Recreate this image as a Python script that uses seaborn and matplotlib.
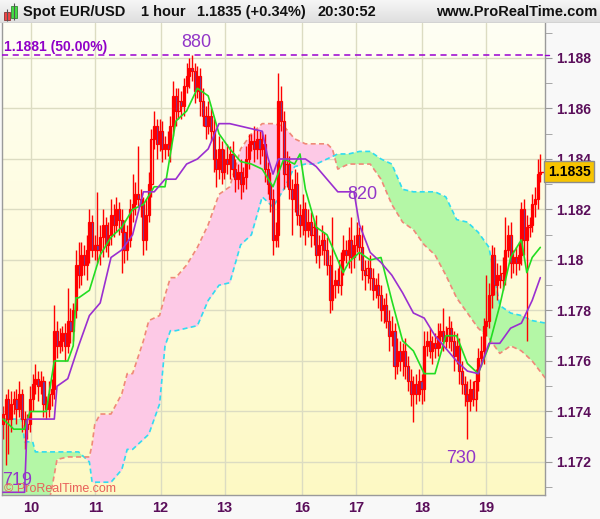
import numpy as np
import pandas as pd
import matplotlib
matplotlib.use("Agg")
import matplotlib.pyplot as plt
from matplotlib.colors import LinearSegmentedColormap
from matplotlib.patches import Rectangle
from matplotlib.ticker import FixedLocator, MultipleLocator, FuncFormatter
import matplotlib.transforms as mtransforms
import seaborn as sns

# --- hourly candles (bar index 0..199), EUR/USD ---
first_open = 1.1735
closes = [
    1.1739, 1.1745, 1.1737, 1.1743, 1.1745, 1.1741, 1.1747, 1.1737, 1.1733, 1.1735,
    1.1745, 1.1751, 1.1753, 1.1750, 1.1752, 1.1743, 1.1741, 1.1747, 1.1749, 1.1772,
    1.1766, 1.1768, 1.1771, 1.1766, 1.1776, 1.1772, 1.1780, 1.1798, 1.1794, 1.1802,
    1.1798, 1.1804, 1.1815, 1.1804, 1.1806, 1.1804, 1.1809, 1.1814, 1.1806, 1.1810,
    1.1818, 1.1814, 1.1820, 1.1816, 1.1811, 1.1804, 1.1808, 1.1820, 1.1822, 1.1826,
    1.1824, 1.1822, 1.1808, 1.1818, 1.1830, 1.1848, 1.1853, 1.1846, 1.1851, 1.1844,
    1.1846, 1.1844, 1.1853, 1.1865, 1.1859, 1.1863, 1.1861, 1.1869, 1.1873, 1.1876,
    1.1875, 1.1867, 1.1873, 1.1863, 1.1857, 1.1853, 1.1857, 1.1851, 1.1840, 1.1836,
    1.1844, 1.1835, 1.1840, 1.1838, 1.1842, 1.1836, 1.1832, 1.1835, 1.1830, 1.1833,
    1.1840, 1.1846, 1.1847, 1.1844, 1.1848, 1.1844, 1.1846, 1.1836, 1.1830, 1.1824,
    1.1808, 1.1810, 1.1863, 1.1855, 1.1834, 1.1838, 1.1828, 1.1824, 1.1830, 1.1818,
    1.1814, 1.1820, 1.1812, 1.1815, 1.1810, 1.1813, 1.1802, 1.1806, 1.1808, 1.1804,
    1.1798, 1.1784, 1.1790, 1.1792, 1.1790, 1.1800, 1.1804, 1.1802, 1.1808, 1.1801,
    1.1806, 1.1810, 1.1805, 1.1796, 1.1794, 1.1797, 1.1793, 1.1788, 1.1790, 1.1786,
    1.1780, 1.1782, 1.1776, 1.1770, 1.1772, 1.1758, 1.1764, 1.1760, 1.1764, 1.1758,
    1.1752, 1.1747, 1.1751, 1.1747, 1.1752, 1.1749, 1.1766, 1.1768, 1.1764, 1.1767,
    1.1765, 1.1770, 1.1772, 1.1768, 1.1770, 1.1773, 1.1768, 1.1762, 1.1766, 1.1756,
    1.1751, 1.1747, 1.1744, 1.1749, 1.1745, 1.1752, 1.1761, 1.1764, 1.1774, 1.1776,
    1.1786, 1.1802, 1.1790, 1.1794, 1.1792, 1.1795, 1.1804, 1.1810, 1.1799, 1.1801,
    1.1799, 1.1802, 1.1820, 1.1808, 1.1813, 1.1814, 1.1822, 1.1824, 1.1834, 1.1835,
]
# wick lengths in pips above / below the body
upper_wick = [
    3, 2, 4, 5, 3, 4, 5, 2, 3, 4, 5, 4, 6, 3, 4, 2, 3, 5, 4, 10,
    4, 5, 3, 4, 13, 5, 3, 6, 9, 5, 4, 6, 5, 3, 4, 21, 5, 6, 3, 5,
    6, 4, 5, 3, 4, 5, 6, 4, 12, 5, 19, 4, 3, 6, 5, 4, 6, 3, 5, 4,
    3, 5, 4, 6, 3, 5, 4, 3, 5, 4, 5, 3, 4, 3, 5, 4, 6, 3, 5, 4,
    5, 3, 4, 6, 3, 5, 4, 3, 5, 4, 5, 4, 3, 6, 4, 3, 5, 4, 3, 5,
    4, 5, 11, 6, 4, 5, 3, 4, 6, 5, 4, 6, 3, 5, 4, 3, 5, 4, 6, 3,
    5, 4, 27, 4, 5, 3, 6, 4, 5, 9, 4, 5, 3, 9, 4, 3, 5, 4, 3, 5,
    4, 3, 5, 4, 6, 3, 5, 4, 3, 5, 4, 5, 3, 4, 5, 3, 6, 4, 5, 3,
    4, 5, 3, 9, 4, 5, 3, 4, 5, 3, 4, 3, 5, 4, 3, 5, 4, 6, 3, 18,
    5, 4, 3, 5, 4, 6, 13, 4, 5, 3, 4, 5, 3, 4, 5, 3, 4, 5, 6, 7,
]
lower_wick = [
    6, 20, 14, 5, 4, 6, 3, 5, 8, 4, 3, 5, 4, 6, 3, 5, 4, 3, 5, 4,
    5, 3, 4, 6, 3, 5, 4, 3, 5, 4, 4, 6, 5, 3, 4, 5, 6, 8, 3, 5,
    4, 5, 3, 6, 16, 5, 4, 3, 5, 4, 3, 5, 6, 4, 3, 5, 4, 6, 3, 5,
    4, 3, 5, 4, 6, 3, 5, 4, 3, 5, 4, 5, 3, 6, 4, 5, 3, 4, 5, 7,
    4, 5, 3, 4, 6, 3, 5, 4, 6, 3, 5, 4, 3, 5, 4, 6, 3, 5, 4, 5,
    6, 3, 5, 4, 6, 5, 4, 14, 5, 4, 5, 4, 6, 3, 5, 4, 3, 5, 4, 6,
    4, 5, 4, 5, 3, 4, 6, 3, 5, 6, 4, 3, 5, 4, 6, 3, 5, 4, 3, 5,
    4, 5, 3, 6, 4, 5, 3, 4, 6, 5, 4, 5, 11, 4, 3, 6, 5, 4, 3, 5,
    4, 3, 5, 4, 3, 5, 4, 6, 3, 5, 4, 5, 15, 4, 3, 5, 4, 3, 5, 4,
    3, 5, 4, 6, 3, 4, 5, 3, 6, 4, 5, 3, 4, 6, 40, 4, 3, 5, 4, 3,
]

# --- Ichimoku lines, sampled at bar indices ---
tenkan_i = [0, 4, 8, 10, 12, 16, 19, 20, 24, 26, 27, 28, 32, 36, 40, 44, 48, 52, 56, 60,
            64, 68, 72, 76, 80, 84, 88, 92, 96, 100, 104, 108, 110, 112, 116, 120, 124,
            126, 128, 132, 136, 140, 144, 148, 152, 156, 160, 164, 168, 172, 176, 180,
            184, 188, 192, 194, 196, 199]
tenkan = [1.1737, 1.1733, 1.1733, 1.1740, 1.1740, 1.1740, 1.1760, 1.1760, 1.1760, 1.1766,
          1.1785, 1.1785, 1.1788, 1.1802, 1.1809, 1.1813, 1.1820, 1.1822, 1.1829, 1.1829,
          1.1855, 1.1859, 1.1868, 1.1865, 1.1850, 1.1844, 1.1839, 1.1838, 1.1836, 1.1829,
          1.1840, 1.1838, 1.1842, 1.1828, 1.1813, 1.1810, 1.1800, 1.1795, 1.1799, 1.1803,
          1.1800, 1.1801, 1.1784, 1.1768, 1.1764, 1.1755, 1.1755, 1.1770, 1.1770, 1.1759,
          1.1755, 1.1766, 1.1782, 1.1801, 1.1808, 1.1795, 1.1801, 1.1805]

kijun_i = [0, 4, 8, 9, 12, 16, 19, 20, 24, 28, 32, 36, 40, 44, 48, 52, 56, 60, 64, 68, 72,
           76, 80, 84, 88, 92, 96, 98, 100, 102, 104, 108, 112, 116, 120, 124, 128, 130,
           132, 136, 140, 144, 148, 152, 156, 160, 164, 168, 172, 176, 180, 184, 188, 192,
           196, 199]
kijun = [1.1708, 1.1708, 1.1708, 1.1737, 1.1737, 1.1737, 1.1737, 1.1750, 1.1753, 1.1766,
         1.1778, 1.1783, 1.1801, 1.1804, 1.1810, 1.1827, 1.1827, 1.1832, 1.1832, 1.1838,
         1.1840, 1.1844, 1.1854, 1.1854, 1.1853, 1.1852, 1.1851, 1.1841, 1.1834, 1.1840,
         1.1840, 1.1840, 1.1840, 1.1837, 1.1832, 1.1827, 1.1827, 1.1827, 1.1814, 1.1803,
         1.1799, 1.1794, 1.1787, 1.1779, 1.1777, 1.1770, 1.1765, 1.1760, 1.1756, 1.1755,
         1.1767, 1.1767, 1.1773, 1.1775, 1.1784, 1.1793]

cloud_i = [0, 4, 7, 8, 11, 12, 16, 18, 20, 24, 28, 32, 33, 34, 36, 40, 44, 46, 48, 52, 54,
           56, 58, 60, 62, 64, 68, 72, 76, 80, 84, 88, 92, 96, 100, 104, 108, 112, 116, 120,
           122, 124, 128, 132, 136, 140, 144, 148, 152, 156, 160, 164, 168, 172, 176, 180,
           184, 188, 192, 196, 201]
span_a = [1.1737, 1.1737, 1.1737, 1.1728, 1.1728, 1.1724, 1.1724, 1.1724, 1.1724, 1.1724,
          1.1724, 1.1720, 1.1712, 1.1712, 1.1712, 1.1712, 1.1717, 1.1725, 1.1725, 1.1729,
          1.1731, 1.1737, 1.1743, 1.1766, 1.1772, 1.1772, 1.1773, 1.1774, 1.1784, 1.1790,
          1.1791, 1.1806, 1.1810, 1.1825, 1.1821, 1.1828, 1.1837, 1.1838, 1.1838, 1.1840,
          1.1841, 1.1842, 1.1842, 1.1843, 1.1843, 1.1840, 1.1838, 1.1828, 1.1827, 1.1827,
          1.1827, 1.1825, 1.1816, 1.1815, 1.1811, 1.1805, 1.1782, 1.1779, 1.1778, 1.1776,
          1.1775]
span_b = [1.1700, 1.1700, 1.1700, 1.1700, 1.1700, 1.1700, 1.1700, 1.1709, 1.1721, 1.1722,
          1.1722, 1.1722, 1.1727, 1.1735, 1.1739, 1.1739, 1.1747, 1.1755, 1.1755, 1.1768,
          1.1776, 1.1777, 1.1778, 1.1786, 1.1793, 1.1793, 1.1798, 1.1805, 1.1814, 1.1826,
          1.1829, 1.1844, 1.1850, 1.1854, 1.1854, 1.1853, 1.1848, 1.1846, 1.1846, 1.1846,
          1.1844, 1.1836, 1.1838, 1.1838, 1.1838, 1.1832, 1.1822, 1.1815, 1.1812, 1.1806,
          1.1802, 1.1794, 1.1785, 1.1779, 1.1773, 1.1769, 1.1763, 1.1766, 1.1764, 1.1760,
          1.1753]

day_labels = ["10", "11", "12", "13", "16", "17", "18", "19"]
day_pos = [10.4, 34.2, 58.4, 82.1, 110.9, 130.8, 155.1, 178.8]

level_50 = 1.1881
last_price = 1.1835

# --- build candle table ---
df = pd.DataFrame({"close": closes})
df["idx"] = np.arange(len(df))
df["open"] = df["close"].shift(1).fillna(first_open)
body_top = df[["open", "close"]].max(axis=1)
body_bot = df[["open", "close"]].min(axis=1)
df["high"] = body_top + np.array(upper_wick) * 0.0001
df["low"] = body_bot - np.array(lower_wick) * 0.0001
df["down"] = df["close"] < df["open"]

cloud = pd.DataFrame({"i": cloud_i, "a": span_a, "b": span_b})
tk = pd.DataFrame({"i": tenkan_i, "v": tenkan})
kj = pd.DataFrame({"i": kijun_i, "v": kijun})

sns.set_style("white")
plt.rcParams["font.family"] = ["Liberation Sans", "DejaVu Sans"]

W, H = 600, 519
fig = plt.figure(figsize=(6, 5.19), dpi=100, facecolor="#f8f8f8")

ax = fig.add_axes([2 / W, 1 - 495 / H, 543 / W, 472 / H])
x0, x1 = -0.37, 200.74
y0, y1 = 1.170693, 1.189386
ax.set_xlim(x0, x1)
ax.set_ylim(y0, y1)

# yellowish vertical gradient background
bg = LinearSegmentedColormap.from_list("bg", ["#fffff4", "#fdf9c4"])
ax.imshow(np.linspace(0, 1, 256).reshape(-1, 1), aspect="auto", cmap=bg,
          extent=[x0, x1, y0, y1], origin="upper", zorder=0)

for v in np.arange(1.172, 1.1885, 0.002):
    ax.axhline(v, color="#dcdcc2", lw=1, zorder=0.5)
for p in day_pos:
    ax.axvline(p, color="#dcdcc2", lw=1, zorder=0.5)

# cloud
ax.fill_between(cloud["i"], cloud["a"], cloud["b"], where=cloud["a"] >= cloud["b"],
                interpolate=True, color="#b4f7a6", lw=0, zorder=1)
ax.fill_between(cloud["i"], cloud["a"], cloud["b"], where=cloud["b"] > cloud["a"],
                interpolate=True, color="#fdc9e6", lw=0, zorder=1)
sns.lineplot(data=cloud, x="i", y="a", ax=ax, color="#30dcf0", lw=1.2,
             linestyle=(0, (3, 2)), zorder=1.5)
sns.lineplot(data=cloud, x="i", y="b", ax=ax, color="#f08878", lw=1.2,
             linestyle=(0, (3, 2)), zorder=1.5)

# candles
ax.vlines(df["idx"], df["low"], df["high"], color="#ff0000", lw=1, zorder=2)
heights = np.maximum(body_top - body_bot, 0.00003)
ax.bar(df["idx"], heights, bottom=body_bot, width=0.8,
       color=np.where(df["down"], "#5a46b4", "none"),
       edgecolor="#ff0000", linewidth=0.9, zorder=3)

# tenkan / kijun
sns.lineplot(data=tk, x="i", y="v", ax=ax, color="#22dd22", lw=1.2, zorder=4)
sns.lineplot(data=kj, x="i", y="v", ax=ax, color="#9a2fd0", lw=1.2, zorder=4)

# 50% level
ax.axhline(level_50, color="#9a00d0", lw=1.1, ls=(0, (4, 3)), zorder=4)
ax.text(0.3, 1.18844, "1.1881 (50.00%)", color="#9000c8", fontsize=10,
        fontweight="bold", va="center", ha="left", zorder=5)

lab_col = "#9236c8"
ax.text(71.5, 1.18863, "880", color=lab_col, fontsize=13, ha="center", va="center", zorder=5)
ax.text(133.0, 1.18261, "820", color=lab_col, fontsize=13, ha="center", va="center", zorder=5)
ax.text(169.6, 1.17212, "730", color=lab_col, fontsize=13, ha="center", va="center", zorder=5)
ax.text(-0.3, 1.17125, "719", color=lab_col, fontsize=13, ha="left", va="center", zorder=5)
ax.text(0.3, 1.17093, "\u00a9 ProRealTime.com", color="#e8605a", fontsize=9,
        ha="left", va="center", zorder=5)

# axes styling
ax.spines["top"].set_visible(False)
for s in ["left", "right", "bottom"]:
    ax.spines[s].set_color("#9a9a9a")
    ax.spines[s].set_linewidth(1)

ax.yaxis.tick_right()
ax.yaxis.set_major_locator(FixedLocator(np.round(np.arange(1.172, 1.1885, 0.002), 3)))
ax.yaxis.set_minor_locator(MultipleLocator(0.001))
ax.yaxis.set_major_formatter(FuncFormatter(lambda v, p: f"{v:.3f}".rstrip("0")))
ax.tick_params(axis="y", which="both", direction="out", length=5, color="#9a9a9a",
               labelsize=10, labelcolor="#5a0e5a", pad=3, left=False, right=True)
for t in ax.get_yticklabels():
    t.set_fontweight("bold")

ax.set_xticks(day_pos)
ax.set_xticklabels(day_labels, fontsize=10.5, fontweight="bold", color="#5a0e5a")
ax.tick_params(axis="x", direction="out", length=3, color="#9a9a9a", pad=1.5)
ax.set_xlabel("")
ax.set_ylabel("")

# current price box on the right scale
trans = mtransforms.blended_transform_factory(ax.transAxes, ax.transData)
ax.plot([0.993, 1.0], [last_price, last_price], transform=trans, color="#ff0000",
        lw=1, clip_on=False, zorder=6)
ax.plot([1.0, 1.008], [level_50, level_50], transform=trans, color="#9a00d0",
        lw=1, clip_on=False, zorder=6)
ax.text(1.005, last_price, "1.1835", transform=trans, ha="left", va="center",
        fontsize=10, fontweight="bold", color="black", zorder=7, clip_on=False,
        bbox=dict(boxstyle="square,pad=0.25", fc="#f7c400", ec="#8c8c8c", lw=1))

# header bar
hax = fig.add_axes([0, 1 - 23 / H, 1, 23 / H])
hax.set_xlim(0, W)
hax.set_ylim(23, 0)
hdr = LinearSegmentedColormap.from_list("hdr", ["#f6f6f6", "#dedede"])
hax.imshow(np.linspace(0, 1, 32).reshape(-1, 1), aspect="auto", cmap=hdr,
           extent=[0, W, 23, 0], origin="upper")
hax.axhline(22.5, color="#a8a8a8", lw=1)
hax.axis("off")
hax.vlines([7, 14], [9, 3], [21, 20], color="#555555", lw=0.8)
hax.add_patch(Rectangle((4, 12), 6, 8, fc="#ee4444", ec="#883333", lw=0.6))
hax.add_patch(Rectangle((11, 6), 6, 12, fc="#44dd44", ec="#338833", lw=0.6))
hkw = dict(fontsize=10.5, fontweight="bold", color="#111111", va="center")
hax.text(23, 12, "Spot EUR/USD", ha="left", **hkw)
hax.text(141, 12, "1 hour", ha="left", **hkw)
hax.text(197, 12, "1.1835 (+0.34%)", ha="left", **hkw)
hax.text(317, 12, "20:30:52", ha="left", **hkw)
hax.text(597, 12, "www.ProRealTime.com", ha="right", **hkw)

fig.savefig("out.png", dpi=100, facecolor=fig.get_facecolor())
